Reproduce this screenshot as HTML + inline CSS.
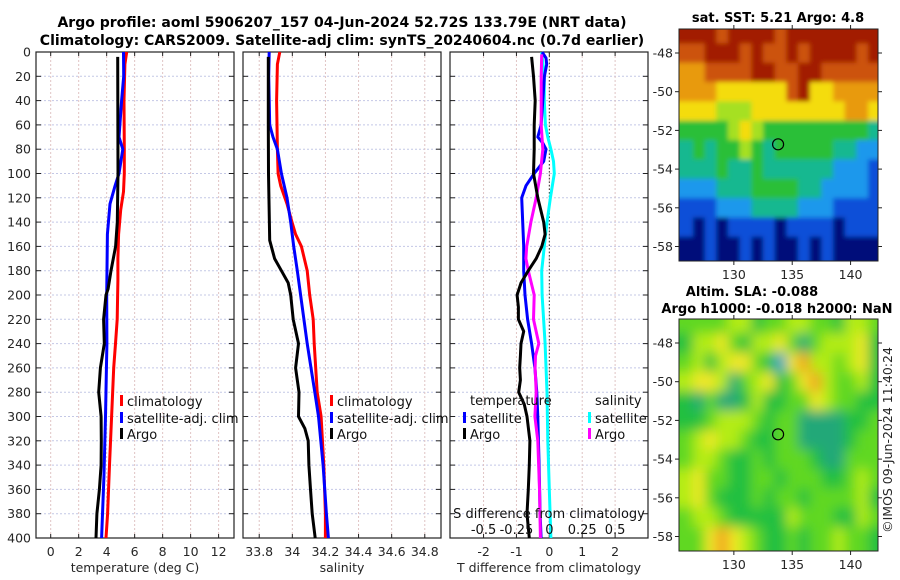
<!DOCTYPE html>
<html><head><meta charset="utf-8">
<style>
html,body{margin:0;padding:0;background:#fff;}
svg{display:block;font-family:"DejaVu Sans","Liberation Sans",sans-serif;}
.tk{font-size:12.5px;fill:#262626;}
.tt{font-size:13px;font-weight:bold;fill:#000;}
.ttm{font-size:14px;font-weight:bold;fill:#000;}
.lg{font-size:13px;fill:#111;}
</style></head>
<body>
<svg id="fig" width="900" height="580" viewBox="0 0 900 580">
<defs>
<filter id="blurSst" x="0" y="0" width="1" height="1"><feGaussianBlur stdDeviation="2.5" edgeMode="duplicate"/></filter>
<filter id="blurSla" x="0" y="0" width="1" height="1"><feGaussianBlur stdDeviation="6" edgeMode="duplicate"/></filter>
</defs>
</svg>
<script>
// ---- Temperature profile data (depth m, deg C)
const climTDepth=[0,10,40,80,100,115,130,150,170,188,220,240,260,300,340,380,400];
const climT=[5.43,5.3,5.24,5.26,5.26,5.2,5.0,4.85,4.8,4.8,4.75,4.63,4.5,4.35,4.2,4.07,3.95];
const satTDepth=[0,20,40,70,80,100,110,125,150,200,240,300,350,400];
const satT=[5.2,5.22,5.07,4.88,5.15,4.88,4.6,4.24,4.05,4.0,4.02,3.92,3.8,3.64];
const argoTDepth=[4,100,140,160,180,195,200,220,240,260,280,300,320,340,360,380,400];
const argoT=[4.79,4.81,4.76,4.64,4.31,4.1,3.95,3.78,3.83,3.55,3.43,3.6,3.62,3.6,3.48,3.3,3.24];
// ---- Salinity profile data
const climSDepth=[0,10,40,80,100,110,125,140,150,160,180,200,220,240,280,300,340,380,400];
const climS=[33.924,33.91,33.905,33.91,33.914,33.93,33.968,33.998,34.02,34.055,34.09,34.105,34.126,34.132,34.15,34.174,34.19,34.2,34.2];
const satSDepth=[0,20,60,70,80,100,120,140,160,180,200,240,280,300,340,380,400];
const satS=[33.86,33.857,33.863,33.883,33.91,33.934,33.968,33.99,34.008,34.03,34.05,34.09,34.136,34.158,34.186,34.206,34.218];
const argoSDepth=[4,60,100,155,170,180,190,200,220,240,260,280,300,310,320,340,360,380,400];
const argoS=[33.855,33.855,33.856,33.863,33.893,33.934,33.975,33.99,34.005,34.037,34.02,34.04,34.037,34.076,34.096,34.1,34.11,34.12,34.138];
// ---- Differences from climatology
const satTdDepth=[0,5,10,20,40,60,70,75,80,90,100,110,120,140,160,180,200,220,240,260,280,300,340,380,400];
const satTd=[-0.22,-0.1,-0.08,-0.15,-0.2,-0.25,-0.35,-0.2,-0.1,-0.17,-0.46,-0.71,-0.84,-0.81,-0.78,-0.78,-0.74,-0.66,-0.54,-0.44,-0.38,-0.35,-0.31,-0.28,-0.25];
const argoTdDepth=[4,20,40,60,80,100,120,140,150,160,170,180,190,200,210,220,230,240,250,260,270,280,290,300,320,340,360,380,400];
const argoTd=[-0.54,-0.48,-0.43,-0.46,-0.46,-0.48,-0.35,-0.17,-0.13,-0.23,-0.4,-0.64,-0.86,-0.98,-0.94,-0.94,-0.78,-0.86,-0.88,-0.9,-0.88,-0.93,-0.76,-0.68,-0.59,-0.61,-0.64,-0.68,-0.61];
const satSdDepth=[0,20,40,60,70,80,90,100,120,140,160,180,200,240,280,320,360,400];
const satSd=[-0.058,-0.038,-0.038,-0.03,-0.012,0.012,0.032,0.038,0.008,-0.018,-0.038,-0.058,-0.055,-0.032,-0.018,-0.012,0,0.012];
const argoSdDepth=[2,20,40,60,80,100,120,140,160,170,180,200,220,240,250,260,280,300,320,360,400];
const argoSd=[-0.058,-0.062,-0.062,-0.062,-0.05,-0.068,-0.1,-0.14,-0.172,-0.178,-0.16,-0.115,-0.12,-0.08,-0.105,-0.108,-0.1,-0.11,-0.088,-0.075,-0.068];
// ---- Tick labels
const depthTicks=[0,20,40,60,80,100,120,140,160,180,200,220,240,260,280,300,320,340,360,380,400];
const tempTicks=[0,2,4,6,8,10,12];
const salTicks=[33.8,34,34.2,34.4,34.6,34.8];
const tdTicks=[-2,-1,0,1,2];
const sdTicks=[-0.5,-0.25,0,0.25,0.5];
const latTicks=[-48,-50,-52,-54,-56,-58];
const lonTicks=[130,135,140];
// ---- Maps (rows lat -47..-58, cols lon 126..142), digit = colour class
const sstRows=["99989999899999999","88999898898999989","77888899889988888","77766666689667777","66655566666666776","44445654444444443","34344543444443322","33343343333332221","22233344443322221","11122233332221111","10101111011110111","00100101001010000"];
const slaRows=["44445534455443554","35564355642455563","45356643167554563","56652456346754453","32422353344654433","33455543442222334","45655433442222344","45543343444322444","56443344344433454","56433343443444453","45543333354443354","44676543343445443"];
const argoLon=[133.79]; const argoLat=[-52.72];

const NS="http://www.w3.org/2000/svg";
const svg=document.getElementById('fig');
function mk(tag,attrs,parent){const e=document.createElementNS(NS,tag);for(const k in attrs)e.setAttribute(k,attrs[k]);(parent||svg).appendChild(e);return e;}
function txt(x,y,s,cls,anchor,parent){const t=mk('text',{x:x,y:y,class:cls,'text-anchor':anchor||'middle'},parent);t.textContent=s;return t;}

const Y0=52,Y1=538;
function yD(d){return Y0+d*(Y1-Y0)/400;}

function panel(name,x0,x1,xmin,xmax,ticks,fmt,xlabel){
  const g=mk('g',{});
  
  
  const sx=v=>x0+(v-xmin)*(x1-x0)/(xmax-xmin);
  depthTicks.forEach(d=>{
    mk('line',{x1:x0,x2:x1,y1:yD(d),y2:yD(d),stroke:'#c4c8e6','stroke-width':1,'stroke-dasharray':'2,2'},g);
    mk('line',{x1:x0,x2:x0+5,y1:yD(d),y2:yD(d),stroke:'#222'},g);
    mk('line',{x1:x1-5,x2:x1,y1:yD(d),y2:yD(d),stroke:'#222'},g);
  });
  ticks.forEach(v=>{
    mk('line',{x1:sx(v),x2:sx(v),y1:Y0,y2:Y1,stroke:'#e0c4c4','stroke-width':1,'stroke-dasharray':'2,2'},g);
    mk('line',{x1:sx(v),x2:sx(v),y1:Y1,y2:Y1-4,stroke:'#222'},g);
    mk('line',{x1:sx(v),x2:sx(v),y1:Y0,y2:Y0+4,stroke:'#222'},g);
    const t=txt(sx(v),556,fmt(v),'tk','middle',g);
    
    
  });
  mk('rect',{x:x0,y:Y0,width:x1-x0,height:Y1-Y0,fill:'none',stroke:'#222','stroke-width':1.2},g);
  const xl=txt((x0+x1)/2,572,xlabel,'tk','middle',g);
  
  
  return {g,sx};
}
function curve(p,depths,vals,color,name,scale){
  const pts=depths.map((d,i)=>p.sx(vals[i]*(scale||1)).toFixed(1)+','+yD(d).toFixed(1)).join(' ');
  const l=mk('polyline',{points:pts,fill:'none',stroke:color,'stroke-width':3,'stroke-linejoin':'round'},p.g);
  
  
}
function legendItem(g,x,y,color,label){
  mk('rect',{x:x,y:y-6,width:3,height:11,fill:color},g);
  txt(x+7,y+5,label,'lg','start',g);
}

// titles
const t1=txt(342,27,'Argo profile: aoml 5906207_157 04-Jun-2024 52.72S 133.79E (NRT data)','ttm');


const t2=txt(342,45,'Climatology: CARS2009. Satellite-adj clim: synTS_20240604.nc (0.7d earlier)','ttm');



depthTicks.forEach(d=>{const t=txt(31,yD(d)+4.5,String(d),'tk','end');
  
  });

const p1=panel('temperature-panel',36,234,-1.05,13.1,tempTicks,v=>String(v),'temperature (deg C)');
curve(p1,climTDepth,climT,'#ff0000','climatology-temperature-line');
curve(p1,satTDepth,satT,'#0000ff','satellite-temperature-line');
curve(p1,argoTDepth,argoT,'#000000','argo-temperature-line');
legendItem(p1.g,120,401,'#ff0000','climatology');
legendItem(p1.g,120,418,'#0000ff','satellite-adj. clim');
legendItem(p1.g,120,434,'#000000','Argo');

const p2=panel('salinity-panel',243,441,33.702,34.898,salTicks,v=>String(v),'salinity');
curve(p2,climSDepth,climS,'#ff0000','climatology-salinity-line');
curve(p2,satSDepth,satS,'#0000ff','satellite-salinity-line');
curve(p2,argoSDepth,argoS,'#000000','argo-salinity-line');
legendItem(p2.g,330,401,'#ff0000','climatology');
legendItem(p2.g,330,418,'#0000ff','satellite-adj. clim');
legendItem(p2.g,330,434,'#000000','Argo');

const p3=panel('difference-panel',450,648,-3.02,3.0,tdTicks,v=>String(v),'T difference from climatology');
mk('line',{x1:p3.sx(0),x2:p3.sx(0),y1:Y0,y2:Y1,stroke:'#333','stroke-dasharray':'1.5,2'},p3.g);
curve(p3,satSdDepth,satSd,'#00ffff','satellite-salinity-diff-line',4);
curve(p3,satTdDepth,satTd,'#0000ff','satellite-temperature-diff-line');
curve(p3,argoSdDepth,argoSd,'#ff00ff','argo-salinity-diff-line',4);
curve(p3,argoTdDepth,argoTd,'#000000','argo-temperature-diff-line');
txt(470,405,'temperature','lg','start',p3.g);
legendItem(p3.g,463,418,'#0000ff','satellite');
legendItem(p3.g,463,434,'#000000','Argo');
txt(595,405,'salinity','lg','start',p3.g);
legendItem(p3.g,588,418,'#00ffff','satellite');
legendItem(p3.g,588,434,'#ff00ff','Argo');
const sdt=txt(549,518,'S difference from climatology','lg','middle',p3.g);


sdTicks.forEach(v=>{txt(p3.sx(v*4),534,String(v),'lg','middle',p3.g);});

const sstPal=['#00107a','#0a4fd8','#1a98ec','#18b890','#2cbf38','#a6e020','#f4dc10','#e89a10','#cc5208','#a21a04'];
const slaPal=['#2060c0','#30a0c8','#20a878','#20c040','#60d820','#b4ec18','#f0e828','#f0a020'];
function map(name,top,bottom,rows,pal,filt){
  const g=mk('g',{});
  
  
  const L=679,R=878,lonMin=125.3,lonMax=142.35;
  function yOf(lat){return (top+24)+(-48-lat)*19.35;}
  const sx=lon=>L+(lon-lonMin)*(R-L)/(lonMax-lonMin);
  const cp=mk('clipPath',{id:name+'-clip'},g);
  mk('rect',{x:L,y:top,width:R-L,height:bottom-top},cp);
  const outer=mk('g',{'clip-path':'url(#'+name+'-clip)'},g);
  const cg=mk('g',{filter:'url(#'+filt+')'},outer);
  rows.forEach((r,ri)=>{
    const lat=-47-ri;
    for(let ci=0;ci<r.length;ci++){
      const lon=126+ci;
      let x=sx(lon-0.5), x2=sx(lon+0.5);
      if(ci===0) x=L-30; if(ci===r.length-1) x2=R+30;
      const y=yOf(lat+0.5);
      let h=19.4; if(ri===rows.length-1) h=60; let yy=y; if(ri===0){yy=top-30;h=y+19.4-yy;}
      const c=mk('rect',{x:x.toFixed(1),y:yy.toFixed(1),width:(x2-x+0.6).toFixed(1),height:(h+0.5).toFixed(1),fill:pal[+r[ci]]},cg);
      
      
    }
  });
  argoLon.forEach((lo,i)=>{
    const c=mk('circle',{cx:sx(lo),cy:yOf(argoLat[i]),r:5.5,fill:'none',stroke:'#000','stroke-width':1.2},g);
    
    
  });
  mk('rect',{x:L,y:top,width:R-L,height:bottom-top,fill:'none',stroke:'#222'},g);
  latTicks.forEach(la=>{const y=yOf(la);
    mk('line',{x1:L-4,x2:L,y1:y,y2:y,stroke:'#222'},g);
    mk('line',{x1:R,x2:R+4,y1:y,y2:y,stroke:'#222'},g);
    txt(673,y+4.5,String(la),'tk','end',g);});
  lonTicks.forEach(lo=>{const x=sx(lo);
    mk('line',{x1:x,x2:x,y1:bottom,y2:bottom+4,stroke:'#222'},g);
    mk('line',{x1:x,x2:x,y1:top-4,y2:top,stroke:'#222'},g);
    txt(x,bottom+18,String(lo),'tk','middle',g);});
  return g;
}
map('sst-map',29,261,sstRows,sstPal,'blurSst');
map('sla-map',319,551,slaRows,slaPal,'blurSla');
const mt1=txt(778,22,'sat. SST: 5.21 Argo: 4.8','tt');


const mt2=txt(752,296,'Altim. SLA: -0.088','tt');


const mt3=txt(777,313,'Argo h1000: -0.018 h2000: NaN','tt');


const cr=txt(0,0,'©IMOS 09-Jun-2024 11:40:24','tk','middle');
cr.setAttribute('transform','translate(892,440) rotate(-90)');


</script>
</body></html>
